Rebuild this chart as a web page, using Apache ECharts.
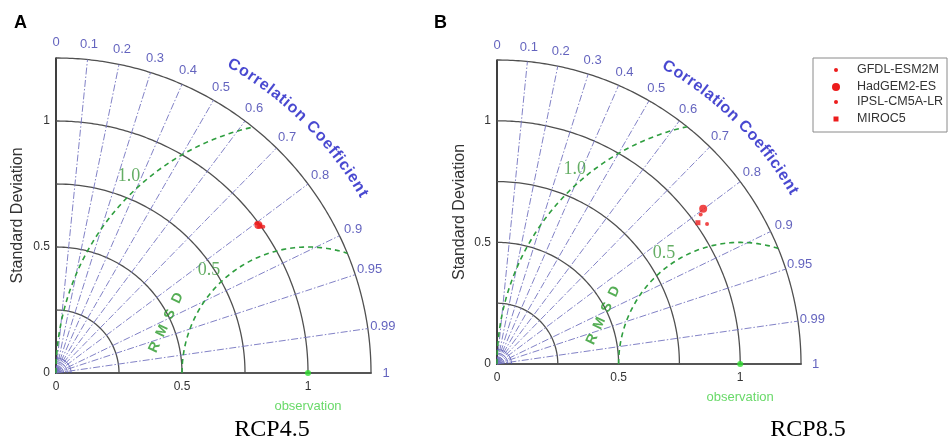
<!DOCTYPE html>
<html>
<head>
<meta charset="utf-8">
<title>Taylor diagrams RCP4.5 / RCP8.5</title>
<script src="https://cdn.jsdelivr.net/npm/echarts@6/dist/echarts.min.js"></script>
<style>
  html, body { margin: 0; padding: 0; background: #fff; }
  #chart { width: 949px; height: 443px; }
</style>
</head>
<body>
<div id="chart"></div>
<script>
// models shown in both panels
const modelNames = ['GFDL-ESM2M', 'HadGEM2-ES', 'IPSL-CM5A-LR', 'MIROC5']
// normalised standard deviation / correlation
const stdRcp45 = [0.993, 0.995, 1.007, 0.997]
const corrRcp45 = [0.801, 0.807, 0.817, 0.811]
const stdRcp85 = [1.039, 1.061, 1.038, 1.010]
const corrRcp85 = [0.806, 0.799, 0.832, 0.818]
// observation (reference point)
const obsStd = [1]
const obsCorr = [1]

// diagram grid
const stdLevels = [0.25, 0.5, 0.75, 1, 1.25]
const corrLines = [0.1, 0.2, 0.3, 0.4, 0.5, 0.6, 0.7, 0.8, 0.9, 0.95, 0.99]
const corrTickLabels = ['0', '0.1', '0.2', '0.3', '0.4', '0.5', '0.6', '0.7', '0.8', '0.9', '0.95', '0.99', '1']
const rmsdLevels = [0.5, 1.0]
const rmsdTickLabels = ['0.5', '1.0']
const axisTickLabels = ['0', '0.5', '1']
const originArcs = [0.015, 0.03, 0.045, 0.06]

const SANS = '"Liberation Sans", Arial, sans-serif'
const SERIF = '"Liberation Serif", "Times New Roman", serif'
const RMAX = 1.25

// layout of the two panels (pixels) and label spots (data units)
const panels = [
  {
    left: 56, top: 58, size: 315, letter: 'A', letterX: 14, scen: 'RCP4.5', scenX: 272,
    std: stdRcp45, corr: corrRcp45, rmsdLabelPos: [[0.607, 0.409], [0.29, 0.78]], nameGap: 30
  },
  {
    left: 497, top: 60, size: 304, letter: 'B', letterX: 434, scen: 'RCP8.5', scenX: 808,
    std: stdRcp85, corr: corrRcp85, rmsdLabelPos: [[0.687, 0.457], [0.32, 0.80]], nameGap: 29
  }
]

const markerStyle = [
  { symbol: 'circle', size: 4 },
  { symbol: 'circle', size: 8 },
  { symbol: 'circle', size: 4 },
  { symbol: 'rect', size: 5 }
]
const RED = '#ec1c1c'

const toXY = (s, c) => [s * c, s * Math.sqrt(Math.max(0, 1 - c * c))]

// points along a circle arc, angles in degrees
function arc (cx, cy, r, a0, a1, step) {
  const pts = []
  const n = Math.ceil(Math.abs(a1 - a0) / step)
  for (let k = 0; k <= n; k++) {
    const a = (a0 + (a1 - a0) * k / n) * Math.PI / 180
    pts.push([cx + r * Math.cos(a), cy + r * Math.sin(a)])
  }
  return pts
}

const measureCtx = document.createElement('canvas').getContext('2d')

function lineSeries (i, data, lineStyle, z) {
  return {
    type: 'line', xAxisIndex: i, yAxisIndex: i, data: data,
    symbol: 'none', silent: true, clip: false, z: z || 2,
    lineStyle: lineStyle, animation: false
  }
}

function textSeries (i, data, label) {
  return {
    type: 'scatter', xAxisIndex: i, yAxisIndex: i, data: data,
    symbolSize: 0, silent: true, clip: false, z: 5, animation: false,
    label: Object.assign({ show: true, position: 'inside', formatter: p => p.name }, label)
  }
}

function buildPanel (i) {
  const p = panels[i]
  const series = []

  // standard deviation arcs
  stdLevels.forEach(r => {
    series.push(lineSeries(i, arc(0, 0, r, 0, 90, 0.5), { color: '#505050', width: 1.3 }))
  })
  // small arcs crowding the origin
  originArcs.forEach(r => {
    series.push(lineSeries(i, arc(0, 0, r, 0, 90, 3), { color: '#4a4ab0', width: 0.8 }))
  })
  // correlation rays
  corrLines.forEach(c => {
    series.push(lineSeries(i, [[0, 0], toXY(RMAX, c)],
      { color: '#7474c0', width: 0.9, type: [7, 2, 1.5, 2] }))
  })
  // centred RMS difference arcs, cut at the outer arc
  rmsdLevels.forEach(R => {
    const aEnd = Math.acos((RMAX * RMAX - 1 - R * R) / (2 * R)) * 180 / Math.PI
    series.push(lineSeries(i, arc(1, 0, R, 180, aEnd, 0.5),
      { color: '#2f9e3f', width: 1.6, type: [5, 4] }, 3))
  })

  // correlation tick labels
  series.push(textSeries(i, corrTickLabels.map(t => ({ name: t, value: toXY(1.31, parseFloat(t)) })),
    { color: '#3c3cae', fontSize: 13, fontFamily: SANS }))

  // curved "Correlation Coefficient"
  const title = 'Correlation Coefficient'
  measureCtx.font = 'bold 16px ' + SANS
  const widths = title.split('').map(ch => measureCtx.measureText(ch).width)
  const centres = []
  let acc = 0
  widths.forEach(w => { centres.push(acc + w / 2); acc += w })
  const c0 = centres[0]
  const c1 = centres[centres.length - 1]
  const letters = []
  title.split('').forEach((ch, k) => {
    if (ch === ' ') return
    const a = 60 - (centres[k] - c0) / (c1 - c0) * (60 - 30.3)
    const rad = a * Math.PI / 180
    letters.push({ name: ch, value: [1.41 * Math.cos(rad), 1.41 * Math.sin(rad)], label: { rotate: a - 90 } })
  })
  series.push(textSeries(i, letters, { color: '#1a1ac4', fontSize: 16, fontWeight: 'bold', fontFamily: SANS }))

  // "RMSD" along the inner arc
  const rmsd = 'RMSD'.split('')
  const dir = 65 * Math.PI / 180
  const stepLen = 0.072
  series.push(textSeries(i, rmsd.map((ch, k) => {
    const off = (k - 1.5) * stepLen
    return { name: ch, value: [0.437 + off * Math.cos(dir), 0.20 + off * Math.sin(dir)], label: { rotate: 65 } }
  }), { color: '#2a9a2a', fontSize: 14, fontWeight: 'bold', fontFamily: SANS }))

  // RMSD contour values
  series.push(textSeries(i, rmsdTickLabels.map((t, k) => ({ name: t, value: p.rmsdLabelPos[k] })),
    { color: '#3f9a3f', fontSize: 18, fontFamily: SERIF }))

  // observation
  series.push({
    type: 'scatter', xAxisIndex: i, yAxisIndex: i, silent: true, clip: false, z: 6,
    data: obsStd.map((s, k) => toXY(s, obsCorr[k])),
    symbol: 'circle', symbolSize: 6, itemStyle: { color: '#2fe02f' },
    label: {
      show: true, position: 'bottom', distance: 24, formatter: 'observation',
      color: '#44d044', fontSize: 13, fontFamily: SANS
    },
    animation: false
  })

  // models
  modelNames.forEach((name, k) => {
    series.push({
      type: 'scatter', name: name, xAxisIndex: i, yAxisIndex: i, silent: true, clip: false, z: 7,
      data: [toXY(p.std[k], p.corr[k])],
      symbol: markerStyle[k].symbol, symbolSize: markerStyle[k].size,
      itemStyle: { color: RED }, animation: false
    })
  })
  return series
}

const axisLabelFmt = v => {
  const t = axisTickLabels.find(s => Math.abs(parseFloat(s) - v) < 1e-9)
  return t === undefined ? '' : t
}

const axisCommon = {
  type: 'value', min: 0, max: RMAX, interval: 0.25,
  axisLine: { show: true, onZero: false, lineStyle: { color: '#1e1e1e', width: 1.7 } },
  axisTick: { show: false },
  splitLine: { show: false },
  axisLabel: { formatter: axisLabelFmt, color: '#333', fontSize: 12, fontFamily: SANS }
}

const grids = panels.map(p => ({ left: p.left, top: p.top, width: p.size, height: p.size }))
const xAxes = panels.map((p, i) => Object.assign({}, axisCommon, {
  gridIndex: i, axisLabel: Object.assign({}, axisCommon.axisLabel, { margin: 8 })
}))
const yAxes = panels.map((p, i) => Object.assign({}, axisCommon, {
  gridIndex: i,
  axisLabel: Object.assign({}, axisCommon.axisLabel, { margin: 6 }),
  name: 'Standard Deviation', nameLocation: 'middle', nameGap: p.nameGap,
  nameTextStyle: { color: '#333', fontSize: 16, fontFamily: SANS }
}))

// legend drawn as a small box at the right edge
const legendRows = [70, 87, 102, 119]
const legendItems = []
legendItems.push({
  type: 'rect', shape: { x: 813, y: 58, width: 134, height: 74 },
  style: { fill: '#fff', stroke: '#8a8a8a', lineWidth: 1 }, z: 10
})
modelNames.forEach((name, k) => {
  const y = legendRows[k]
  const m = markerStyle[k]
  if (m.symbol === 'rect') {
    legendItems.push({ type: 'rect', shape: { x: 836 - m.size / 2, y: y - m.size / 2, width: m.size, height: m.size }, style: { fill: RED }, z: 11 })
  } else {
    legendItems.push({ type: 'circle', shape: { cx: 836, cy: y, r: m.size / 2 }, style: { fill: RED }, z: 11 })
  }
  legendItems.push({
    type: 'text', x: 857, y: y, z: 11,
    style: { text: name, fill: '#333', font: '12.5px ' + SANS, verticalAlign: 'middle' }
  })
})

const titles = []
panels.forEach(p => {
  titles.push({ type: 'text', x: p.letterX, y: 14, style: { text: p.letter, fill: '#000', font: 'bold 18px ' + SANS } })
  titles.push({
    type: 'text', x: p.scenX, y: 430,
    style: { text: p.scen, fill: '#000', font: '24px ' + SERIF, align: 'center', verticalAlign: 'middle' }
  })
})

const chart = echarts.init(document.getElementById('chart'), null, { renderer: 'canvas' })
chart.setOption({
  animation: false,
  backgroundColor: '#fff',
  grid: grids,
  xAxis: xAxes,
  yAxis: yAxes,
  series: [].concat(buildPanel(0), buildPanel(1)),
  graphic: legendItems.concat(titles)
})
</script>
</body>
</html>
